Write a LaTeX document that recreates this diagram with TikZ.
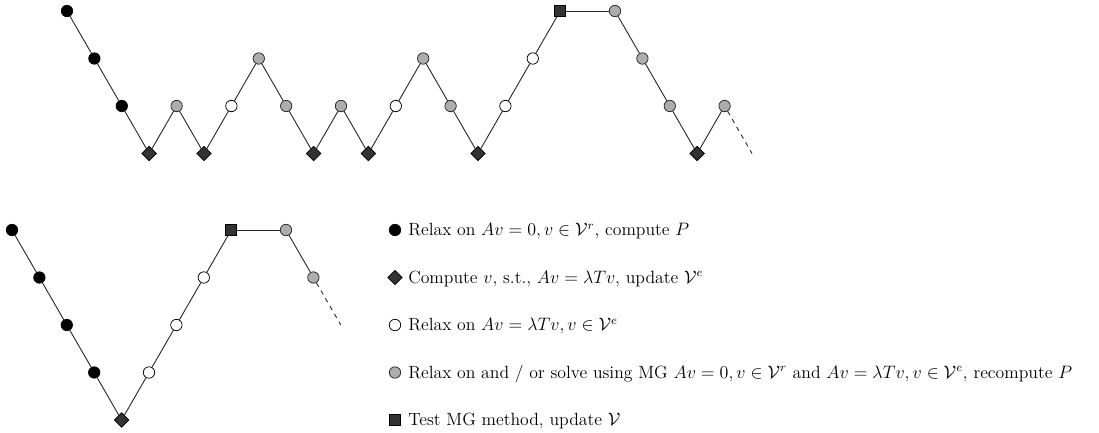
\documentclass[tikz,border=0pt]{standalone}
\usetikzlibrary{shapes.geometric}
\begin{document}
\begin{tikzpicture}[x=0.6667pt,y=-0.6667pt,
  blk/.style={circle,draw=black,fill=black,inner sep=0pt,minimum size=7.6pt,line width=0.5pt},
  wht/.style={circle,draw=black,fill=white,inner sep=0pt,minimum size=7.6pt,line width=0.5pt},
  gry/.style={circle,draw=black!85,fill=black!32,inner sep=0pt,minimum size=7.6pt,line width=0.5pt},
  dia/.style={diamond,draw=black,fill=black!80,inner sep=0pt,minimum size=9.8pt,line width=0.5pt},
  sqr/.style={rectangle,draw=black,fill=black!80,inner sep=0pt,minimum size=7.4pt,line width=0.5pt},
  conn/.style={draw=black!85,line width=0.6pt},
  dconn/.style={conn,dashed},
  lbl/.style={anchor=base west,inner sep=0pt,font=\fontsize{11.8}{14}\selectfont}]
\useasboundingbox (0,0) rectangle (1099,432);
% top row
\foreach \i/\lev/\sty in {0/0/blk,1/1/blk,2/2/blk,3/3/dia,4/2/gry,5/3/dia,6/2/wht,7/1/gry,8/2/gry,9/3/dia,10/2/gry,11/3/dia,12/2/wht,13/1/gry,14/2/gry,15/3/dia,16/2/wht,17/1/wht,18/0/sqr,20/0/gry,21/1/gry,22/2/gry,23/3/dia,24/2/gry}
  \node[\sty] (t\i) at ({67+27.4*\i},{11+47.5*\lev}) {};
\coordinate (te) at ({67+27.4*25},{11+47.5*3});
\foreach \a/\b in {0/1,1/2,2/3,3/4,4/5,5/6,6/7,7/8,8/9,9/10,10/11,11/12,12/13,13/14,14/15,15/16,16/17,17/18,18/20,20/21,21/22,22/23,23/24}
  \draw[conn] (t\a) -- (t\b);
\draw[dconn] (t24) -- (te);
% bottom left
\foreach \i/\lev/\sty in {0/0/blk,1/1/blk,2/2/blk,3/3/blk,4/4/dia,5/3/wht,6/2/wht,7/1/wht,8/0/sqr,10/0/gry,11/1/gry}
  \node[\sty] (b\i) at ({12+27.4*\i},{230+47.5*\lev}) {};
\coordinate (be) at ({12+27.4*12},{230+47.5*2});
\foreach \a/\b in {0/1,1/2,2/3,3/4,4/5,5/6,6/7,7/8,8/10,10/11}
  \draw[conn] (b\a) -- (b\b);
\draw[dconn] (b11) -- (be);
% legend
\node[blk] (l1) at (395,230) {};
\node[dia] (l2) at (395,277.5) {};
\node[wht] (l3) at (395,325) {};
\node[gry] (l4) at (395,372.5) {};
\node[sqr] (l5) at (395,420) {};
\node[lbl] (t1) at (408,235.9) {Relax on $Av=0, v\in\mathcal{V}^r$, compute $P$};
\node[lbl] (t2) at (408,283.4) {Compute $v$, s.t., $Av=\lambda T v$, update $\mathcal{V}^e$};
\node[lbl] (t3) at (408,330.9) {Relax on $Av=\lambda T v, v\in\mathcal{V}^e$};
\node[lbl] (t4) at (408,378.4) {Relax on and / or solve using MG $Av=0, v\in\mathcal{V}^r$ and $Av=\lambda T v, v\in\mathcal{V}^e$, recompute $P$};
\node[lbl] (t5) at (408,425.9) {Test MG method, update $\mathcal{V}$};
\end{tikzpicture}
\end{document}
